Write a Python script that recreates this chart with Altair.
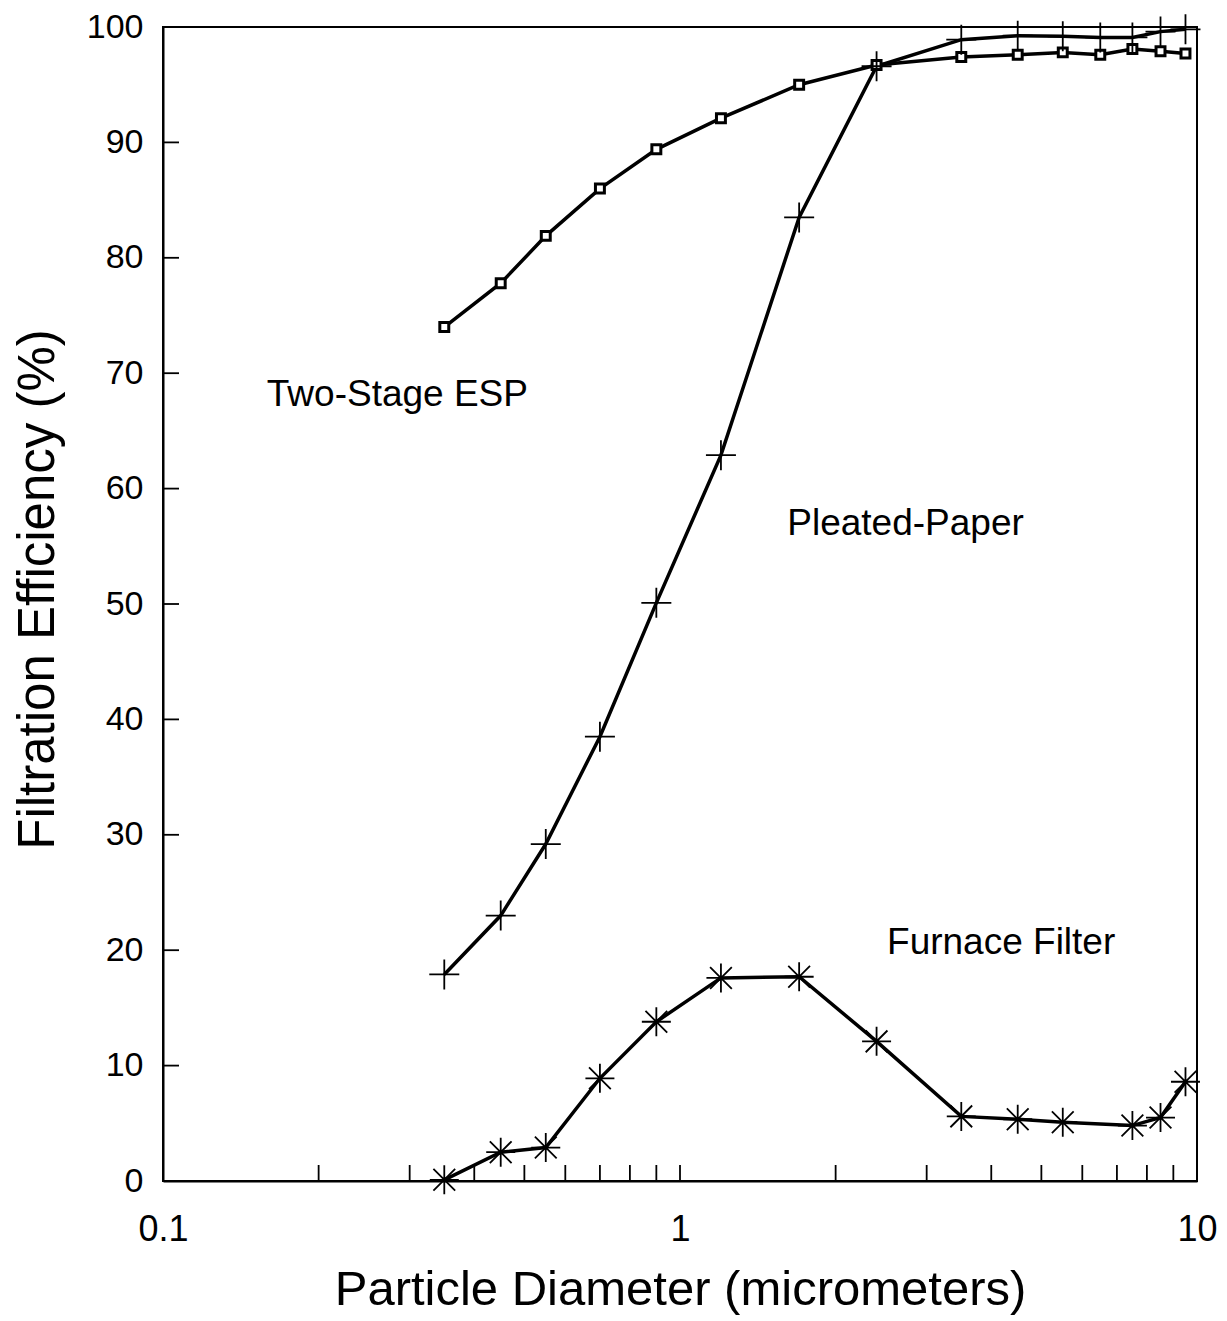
import altair as alt
import pandas as pd

# Particle diameters (micrometers)
ESP_X = [0.35, 0.45, 0.55, 0.7, 0.9, 1.2, 1.7, 2.4, 3.5, 4.5, 5.5, 6.5, 7.5, 8.5, 9.5]
ESP_Y = [74.0, 77.8, 81.9, 86.0, 89.4, 92.1, 95.0, 96.7, 97.4, 97.6, 97.8, 97.6, 98.1, 97.9, 97.7]

PLEATED_X = [0.35, 0.45, 0.55, 0.7, 0.9, 1.2, 1.7, 2.4, 3.5, 4.5, 5.5, 6.5, 7.5, 8.5, 9.5]
PLEATED_Y = [17.9, 23.0, 29.2, 38.5, 50.1, 62.9, 83.5, 96.6, 98.9, 99.25, 99.2, 99.1, 99.1, 99.6, 99.8]

FURNACE_X = [0.35, 0.45, 0.55, 0.7, 0.9, 1.2, 1.7, 2.4, 3.5, 4.5, 5.5, 7.5, 8.5, 9.5]
FURNACE_Y = [0.1, 2.5, 2.9, 8.9, 13.8, 17.6, 17.7, 12.1, 5.6, 5.35, 5.1, 4.8, 5.5, 8.6]

LABEL_TEXT = ["Two-Stage ESP", "Pleated-Paper", "Furnace Filter"]
LABEL_X = [0.284, 2.73, 4.18]
LABEL_Y = [68.1, 56.9, 20.6]

X_MINOR_TICKS = [0.2, 0.3, 0.4, 0.5, 0.6, 0.7, 0.8, 0.9, 1, 2, 3, 4, 5, 6, 7, 8, 9]
Y_TICKS = [10, 20, 30, 40, 50, 60, 70, 80, 90]
X_LABELS = [0.1, 1, 10]
Y_LABELS = [0, 10, 20, 30, 40, 50, 60, 70, 80, 90, 100]

W, H = 1034, 1154
FONT = "Liberation Sans"

esp = pd.DataFrame({"x": ESP_X, "y": ESP_Y})
pleated = pd.DataFrame({"x": PLEATED_X, "y": PLEATED_Y})
furnace = pd.DataFrame({"x": FURNACE_X, "y": FURNACE_Y})
labels = pd.DataFrame({"t": LABEL_TEXT, "x": LABEL_X, "y": LABEL_Y})
xt = pd.DataFrame({"x": X_MINOR_TICKS})
yt = pd.DataFrame({"y": Y_TICKS})

xscale = alt.Scale(type="log", domain=[0.1, 10], nice=False)
yscale = alt.Scale(domain=[0, 100], nice=False, zero=False)

xaxis = alt.Axis(
    values=X_LABELS, format="~g", ticks=False, tickSize=0, grid=False, labelFlush=False,
    labelFont=FONT, labelFontSize=36, labelColor="black", labelPadding=31,
    title="Particle Diameter (micrometers)", titleFont=FONT, titleFontSize=49,
    titleFontWeight="normal", titleColor="black", titlePadding=18,
    domainColor="black", domainWidth=2,
)
yaxis = alt.Axis(
    values=Y_LABELS, ticks=False, tickSize=0, grid=False, labelFlush=False,
    labelFont=FONT, labelFontSize=34, labelColor="black", labelPadding=20,
    title="Filtration Efficiency (%)", titleFont=FONT, titleFontSize=51,
    titleFontWeight="normal", titleColor="black", titlePadding=22, titleY=562,
    domainColor="black", domainWidth=2,
)

X = lambda: alt.X("x:Q", scale=xscale, axis=xaxis)
Y = lambda: alt.Y("y:Q", scale=yscale, axis=yaxis)

PLUS = "M-1,0H1M0,-1V1"
STAR = "M-1,0H1M0,-1V1M-0.75,-0.75L0.75,0.75M-0.75,0.75L0.75,-0.75"

def line(df):
    return alt.Chart(df).mark_line(color="black", strokeWidth=3.5, clip=False).encode(x=X(), y=Y())

esp_pts = alt.Chart(esp).mark_point(shape="square", size=80, filled=True, fill="white",
                                    stroke="black", strokeWidth=3, opacity=1).encode(x=X(), y=Y())
pleated_pts = alt.Chart(pleated).mark_point(shape=PLUS, size=900, filled=False, stroke="black",
                                            strokeWidth=1.8, opacity=1).encode(x=X(), y=Y())
furnace_pts = alt.Chart(furnace).mark_point(shape=STAR, size=841, filled=False, stroke="black",
                                            strokeWidth=1.8, opacity=1).encode(x=X(), y=Y())

text = alt.Chart(labels).mark_text(font=FONT, fontSize=37, color="black", align="center",
                                    baseline="middle").encode(x=X(), y=Y(), text="t:N")

xticks = alt.Chart(xt).mark_rule(color="black", strokeWidth=1.8).encode(
    x=alt.X("x:Q", scale=xscale, axis=xaxis), y=alt.value(H), y2=alt.value(H - 16))
yticks = alt.Chart(yt).mark_rule(color="black", strokeWidth=1.8).encode(
    y=alt.Y("y:Q", scale=yscale, axis=yaxis), x=alt.value(0), x2=alt.value(16))

chart = alt.layer(
    xticks, yticks,
    line(esp), line(pleated), line(furnace),
    esp_pts, pleated_pts, furnace_pts, text,
).properties(
    width=W, height=H,
    autosize=alt.AutoSizeParams(type="none"),
    padding={"left": 155, "top": 19, "right": 20, "bottom": 140},
    background="white",
).configure_view(stroke="black", strokeWidth=2)

chart.save("out.html", embed_options={"renderer": "svg", "actions": False})
